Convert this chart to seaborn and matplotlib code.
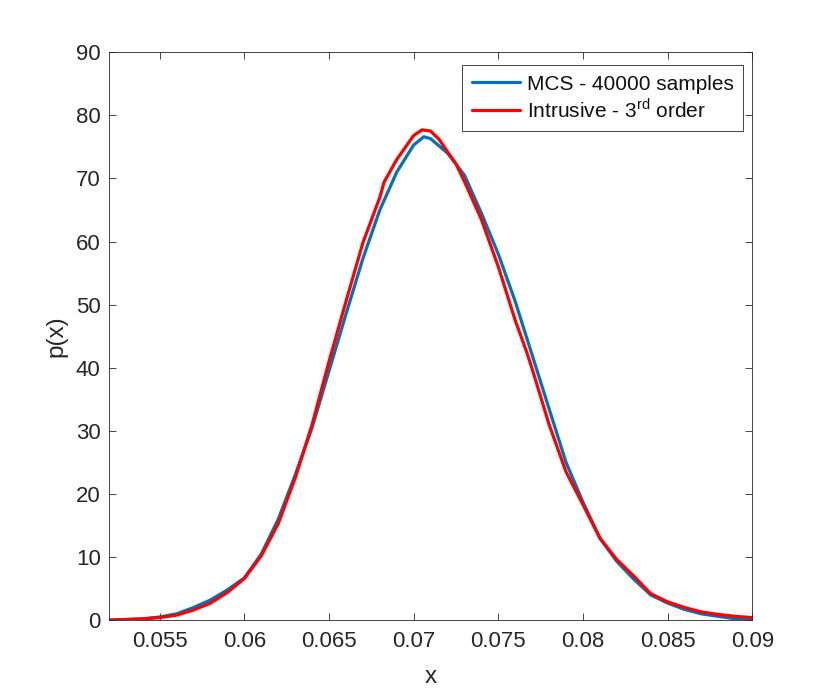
import pandas as pd
import matplotlib
matplotlib.use('Agg')
import matplotlib.pyplot as plt
import seaborn as sns

### curve values
x_mcs = [0.052, 0.053, 0.054, 0.055, 0.056, 0.057, 0.058, 0.059, 0.060, 0.061,
         0.062, 0.063, 0.064, 0.065, 0.066, 0.067, 0.068, 0.069, 0.070, 0.0706,
         0.071, 0.072, 0.073, 0.074, 0.075, 0.076, 0.077, 0.078, 0.079, 0.080,
         0.081, 0.082, 0.083, 0.084, 0.085, 0.086, 0.087, 0.088, 0.089, 0.090]
p_mcs = [0.0, 0.1, 0.2, 0.5, 1.0, 2.0, 3.2, 4.8, 6.7, 10.5,
         16.0, 23.0, 30.5, 39.5, 48.5, 57.3, 65.0, 71.0, 75.3, 76.6,
         76.3, 74.0, 70.5, 64.5, 58.0, 50.5, 42.0, 33.5, 25.0, 18.7,
         13.0, 9.3, 6.5, 4.0, 2.7, 1.7, 1.0, 0.6, 0.2, 0.1]

x_intr = [0.052, 0.053, 0.054, 0.055, 0.056, 0.057, 0.058, 0.059, 0.060, 0.061,
          0.062, 0.063, 0.064, 0.065, 0.066, 0.067, 0.068, 0.06825, 0.069, 0.070,
          0.0705, 0.071, 0.0715, 0.072, 0.0725, 0.073, 0.074, 0.075, 0.076, 0.0767,
          0.077, 0.078, 0.079, 0.080, 0.081, 0.082, 0.083, 0.084, 0.085, 0.086,
          0.087, 0.088, 0.089, 0.090]
p_intr = [0.0, 0.1, 0.2, 0.4, 0.8, 1.6, 2.7, 4.4, 6.6, 10.2,
          15.3, 22.5, 31.0, 41.0, 50.5, 59.8, 67.0, 69.4, 73.0, 76.8,
          77.7, 77.5, 76.2, 74.2, 72.3, 69.5, 63.5, 56.0, 47.5, 42.3,
          39.8, 31.0, 23.5, 18.3, 13.0, 9.6, 7.0, 4.2, 2.9, 2.0,
          1.3, 0.9, 0.6, 0.4]

lab_mcs = 'MCS - 40000 samples'
lab_intr = r'Intrusive - 3$^{\mathrm{rd}}$ order'

df = pd.concat([
    pd.DataFrame({'x': x_mcs, 'p': p_mcs, 'method': lab_mcs}),
    pd.DataFrame({'x': x_intr, 'p': p_intr, 'method': lab_intr}),
])

sns.set_style('ticks')
plt.rcParams['font.family'] = ['Liberation Sans', 'DejaVu Sans']
plt.rcParams['mathtext.fontset'] = 'custom'
plt.rcParams['mathtext.rm'] = 'Liberation Sans'
plt.rcParams['axes.edgecolor'] = '#262626'
plt.rcParams['axes.linewidth'] = 0.6

fig = plt.figure(figsize=(8.3, 6.96), dpi=100)
ax = fig.add_axes([0.1313, 0.109, 0.775, 0.816])

sns.lineplot(data=df, x='x', y='p', hue='method', ax=ax, sort=False,
             palette={lab_mcs: '#0072BD', lab_intr: '#FF0000'}, linewidth=2.3)

ax.set_xlim(0.052, 0.09)
ax.set_ylim(0, 90)
ax.set_xticks([0.055, 0.06, 0.065, 0.07, 0.075, 0.08, 0.085, 0.09])
ax.set_xticklabels(['0.055', '0.06', '0.065', '0.07', '0.075', '0.08', '0.085', '0.09'])
ax.set_yticks(range(0, 91, 10))
ax.tick_params(direction='in', top=True, right=True, length=5, width=0.6,
               labelsize=16, colors='#262626')
ax.tick_params(axis='x', pad=8)
ax.tick_params(axis='y', pad=6)
ax.set_xlabel('x', fontsize=17.5, color='#262626', labelpad=10)
ax.set_ylabel('p(x)', fontsize=17.5, color='#262626', labelpad=6)

leg = ax.legend(loc='upper right', bbox_to_anchor=(0.986, 0.977), borderaxespad=0,
                fontsize=15, fancybox=False, framealpha=1, edgecolor='#262626',
                handlelength=2.3, handletextpad=0.35, labelspacing=0.2,
                borderpad=0.45)
leg.get_frame().set_linewidth(0.6)
for t in leg.get_texts():
    t.set_color('#111111')

fig.savefig('out.png', dpi=100)
